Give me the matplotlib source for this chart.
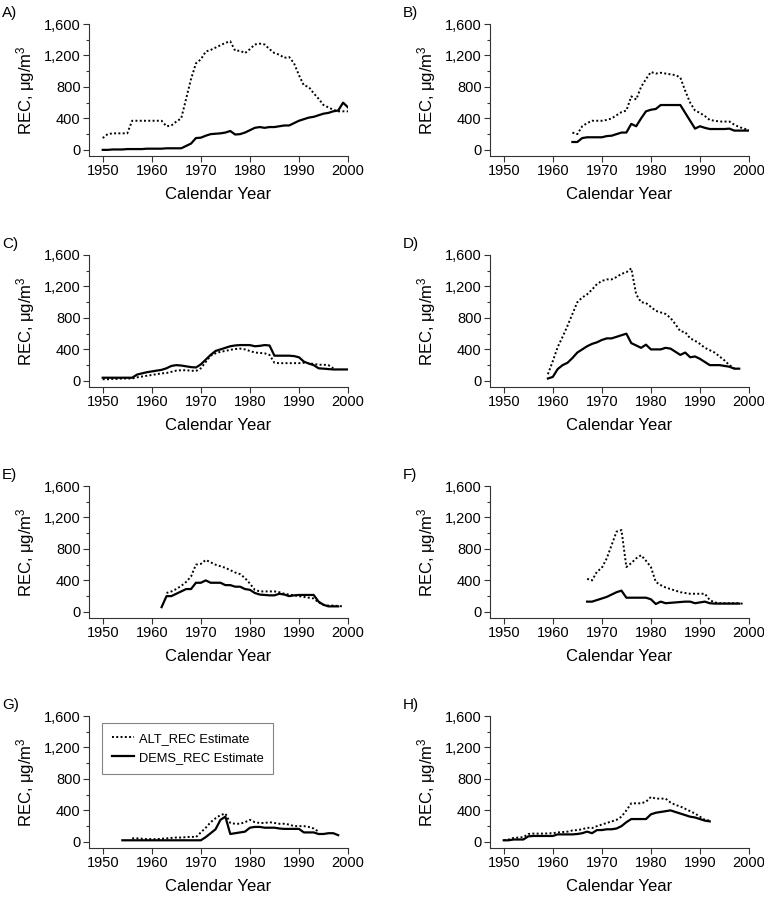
import numpy as np
import matplotlib
matplotlib.use("Agg")
import matplotlib.pyplot as plt
from matplotlib.ticker import FuncFormatter, MultipleLocator

plt.rcParams['font.family'] = ['Liberation Sans', 'DejaVu Sans']
plt.rcParams['mathtext.fontset'] = 'custom'
plt.rcParams['mathtext.rm'] = 'Liberation Sans'
plt.rcParams['mathtext.it'] = 'Liberation Sans'

# panel data: start year + yearly values (ALT_REC dotted, DEMS_REC solid)
a_alt_start = 1950
a_alt = [150, 200, 210, 210, 210, 210, 370, 370, 370, 370, 370, 370, 370, 300, 310, 360, 400,
         650, 900, 1100, 1150, 1250, 1270, 1300, 1330, 1360, 1380, 1260, 1260, 1230, 1280,
         1340, 1350, 1340, 1280, 1230, 1210, 1170, 1180, 1100, 950, 820, 800, 720, 650, 570,
         540, 510, 490, 490, 490]
a_dems_start = 1950
a_dems = [0, 0, 5, 5, 5, 10, 10, 10, 10, 15, 15, 15, 15, 20, 20, 20, 20, 50, 80, 150, 155,
          180, 200, 205, 210, 220, 240, 195, 200, 220, 250, 280, 290, 280, 290, 290, 300, 310,
          310, 340, 370, 390, 410, 420, 440, 460, 470, 490, 500, 600, 540]

b_alt_start = 1964
b_alt = [220, 200, 300, 340, 370, 370, 370, 380, 400, 440, 480, 500, 680, 640, 800, 900, 990,
         970, 980, 970, 960, 950, 920, 750, 600, 500, 470, 430, 380, 370, 360, 360, 360, 320,
         290, 270, 250]
b_dems_start = 1964
b_dems = [100, 100, 150, 160, 160, 160, 160, 175, 180, 200, 220, 220, 330, 300, 400, 490, 510,
          520, 570, 570, 570, 570, 570, 470, 370, 270, 300, 280, 265, 265, 265, 265, 270, 245,
          245, 245, 245]

c_alt_start = 1950
c_alt = [20, 20, 25, 25, 30, 30, 30, 45, 55, 65, 75, 85, 95, 100, 115, 130, 135, 135, 130, 125,
         160, 240, 320, 350, 370, 380, 395, 405, 410, 400, 380, 360, 355, 350, 330,
         230, 225, 225, 225, 225, 225, 230, 225, 215, 205, 205, 200, 160]
c_dems_start = 1950
c_dems = [40, 40, 40, 40, 40, 40, 40, 80, 95, 110, 120, 130, 140, 160, 190, 200, 195, 185, 175,
          170, 210, 270, 330, 380, 400, 420, 440, 450, 455, 455, 455, 440, 445, 455, 450,
          320, 320, 320, 320, 315, 300, 245, 220, 200, 160, 155, 150, 145, 145, 145, 145]

d_alt_start = 1959
d_alt = [85, 250, 430, 560, 700, 850, 1000, 1060, 1100, 1160, 1230, 1270, 1290, 1290, 1320,
         1360, 1380, 1430, 1100, 1000, 990, 940, 890, 870, 850, 800, 720, 630, 620, 540,
         510, 470, 420, 390, 360, 310, 260, 200, 160]
d_dems_start = 1959
d_dems = [30, 50, 150, 200, 230, 290, 360, 400, 440, 470, 490, 520, 540, 540, 560, 580, 600,
          480, 450, 420, 460, 400, 400, 400, 420, 410, 370, 330, 360, 300, 310, 280, 240, 200,
          200, 200, 190, 180, 155, 155]

e_alt_start = 1963
e_alt = [240, 260, 290, 330, 380, 450, 600, 610, 660, 630, 600, 580, 560, 530, 500, 480, 430,
         360, 280, 260, 260, 260, 260, 250, 230, 220, 210, 200, 190, 180, 170, 120, 90, 80, 80,
         75, 70]
e_dems_start = 1962
e_dems = [60, 200, 200, 230, 260, 290, 290, 370, 370, 400, 370, 370, 370, 340, 340, 320, 320,
          290, 280, 240, 220, 215, 210, 210, 230, 220, 200, 210, 215, 215, 215, 215, 130, 90,
          70, 70, 70]

f_alt_start = 1967
f_alt = [420, 400, 510, 560, 680, 850, 1020, 1040, 570, 620, 680, 720, 650, 570, 380, 340, 310,
         290, 270, 250, 240, 230, 230, 230, 230, 150, 120, 110, 110, 110, 110, 110, 100]
f_dems_start = 1967
f_dems = [130, 130, 150, 170, 190, 220, 250, 270, 180, 180, 180, 180, 180, 160, 100, 130, 110,
          115, 120, 125, 130, 130, 110, 120, 130, 110, 105, 105, 105, 105, 105, 105]

g_alt_start = 1956
g_alt = [45, 45, 40, 35, 35, 35, 40, 45, 50, 55, 55, 60, 65, 60, 120, 180, 250, 300, 340, 360,
         240, 230, 230, 250, 280, 250, 240, 240, 250, 240, 230, 230, 220, 200, 200, 200, 190,
         170, 130]
g_dems_start = 1954
g_dems = [20, 20, 20, 20, 20, 20, 20, 20, 20, 20, 20, 20, 20, 20, 20, 20, 20, 60, 110, 160, 280,
          320, 100, 110, 120, 130, 180, 190, 190, 180, 180, 180, 170, 165, 165, 165, 165, 120,
          120, 120, 100, 100, 110, 110, 85]

h_alt_start = 1950
h_alt = [20, 30, 50, 55, 60, 100, 105, 105, 105, 108, 110, 120, 125, 130, 145, 150, 160, 180,
         175, 200, 220, 240, 260, 280, 320, 400, 490, 490, 490, 510, 570, 550, 550, 550, 500,
         470, 450, 420, 390, 360, 320, 280, 270]
h_dems_start = 1950
h_dems = [20, 20, 30, 30, 30, 70, 75, 75, 75, 75, 75, 95, 95, 95, 95, 100, 110, 130, 110, 150,
          150, 160, 160, 170, 200, 250, 290, 290, 290, 290, 350, 370, 380, 390, 400, 380, 360,
          340, 320, 310, 290, 270, 260]

panel_labels = ["A)", "B)", "C)", "D)", "E)", "F)", "G)", "H)"]
panels = [
    (a_alt_start, a_alt, a_dems_start, a_dems),
    (b_alt_start, b_alt, b_dems_start, b_dems),
    (c_alt_start, c_alt, c_dems_start, c_dems),
    (d_alt_start, d_alt, d_dems_start, d_dems),
    (e_alt_start, e_alt, e_dems_start, e_dems),
    (f_alt_start, f_alt, f_dems_start, f_dems),
    (g_alt_start, g_alt, g_dems_start, g_dems),
    (h_alt_start, h_alt, h_dems_start, h_dems),
]
x_ticks = [1950, 1960, 1970, 1980, 1990, 2000]
y_ticks = [0, 400, 800, 1200, 1600]

W, H = 764, 899
fig = plt.figure(figsize=(W / 100, H / 100), dpi=100)

col_left = [89, 490]
row_bottom = [156, 387, 618, 848]
ax_w = 259
ax_h = 132

for i, (alt_start, alt, dems_start, dems) in enumerate(panels):
    row, col = divmod(i, 2)
    left = col_left[col] / W
    bottom = (H - row_bottom[row]) / H
    ax = fig.add_axes([left, bottom, ax_w / W, ax_h / H])

    alt_years = np.arange(alt_start, alt_start + len(alt))
    dems_years = np.arange(dems_start, dems_start + len(dems))
    ax.plot(alt_years, alt, color='black', lw=1.4, linestyle=(0, (1, 1.2)),
            label='ALT_REC Estimate')
    ax.plot(dems_years, dems, color='black', lw=1.6, label='DEMS_REC Estimate')

    ax.set_xlim(1947.2, 2000)
    ax.set_ylim(-78, 1600)
    ax.set_xticks(x_ticks)
    ax.set_yticks(y_ticks)
    ax.yaxis.set_minor_locator(MultipleLocator(200))
    ax.yaxis.set_major_formatter(FuncFormatter(lambda v, p: f"{v:,.0f}"))
    for s in ['top', 'right']:
        ax.spines[s].set_visible(False)
    for s in ['left', 'bottom']:
        ax.spines[s].set_linewidth(0.8)
        ax.spines[s].set_color('#333333')
    ax.tick_params(axis='both', which='major', labelsize=10.5, length=4, width=0.8,
                   color='#333333', pad=2)
    ax.tick_params(axis='y', which='minor', length=2.5, width=0.8, color='#333333')
    ax.set_xlabel("Calendar Year", fontsize=12, labelpad=6)
    ax.set_ylabel(r"REC, μg/m$^3$", fontsize=12, labelpad=5)
    ax.text(-0.335, 1.135, panel_labels[i], transform=ax.transAxes, fontsize=11,
            ha='left', va='top')

    if i == 6:
        leg = ax.legend(loc='upper left', bbox_to_anchor=(0.05, 0.947), fontsize=9.3,
                        handlelength=1.7, frameon=True, fancybox=False, borderaxespad=0,
                        borderpad=0.75, labelspacing=0.55, handletextpad=0.4)
        leg.get_frame().set_edgecolor('#666666')
        leg.get_frame().set_linewidth(0.8)

fig.savefig("out.png", dpi=100)
